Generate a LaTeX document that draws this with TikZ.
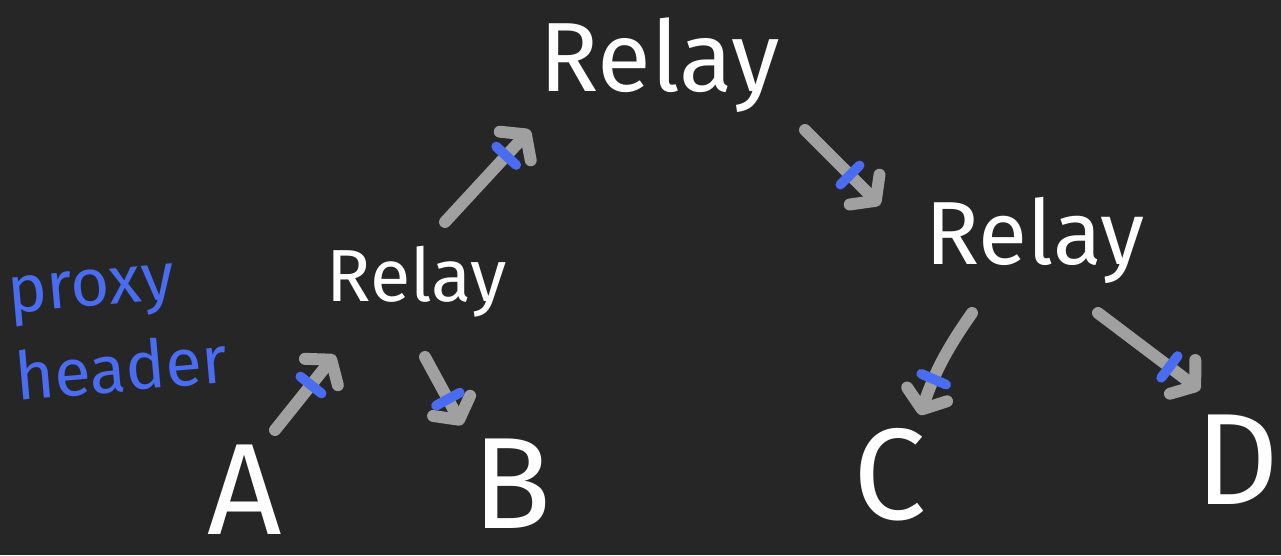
\documentclass[tikz,border=0pt]{standalone}
\usepackage{fontspec}
\setmainfont{Fira Sans}
\usetikzlibrary{arrows.meta, calc, positioning}
\definecolor{board}{HTML}{262626}
\definecolor{chalk}{HTML}{A0A0A0}
\definecolor{marker}{HTML}{4A6CF0}
\tikzset{
  relay/.style={text=white, inner sep=0pt},
  host/.style={text=white, inner sep=0pt, font=\fontsize{74}{78}\selectfont},
  hop/.style={->, draw=chalk, line width=6.8pt, line cap=round},
  hdr/.style={sloped, fill=marker, rounded corners=2.8pt, inner sep=0pt,
    minimum width=5.6pt, minimum height=21pt}
}

\begin{document}
\begin{tikzpicture}[x=0.02cm, y=-0.02cm, >={Straight Barb[round,length=9pt,width=24pt]}]
\fill[board] (0,0) rectangle (1281,555);
\useasboundingbox (0,0) rectangle (1281,555);
\node[relay, font=\fontsize{56}{60}\selectfont] at (660,65) (R0) {Relay};
\node[relay, font=\fontsize{42}{44}\selectfont] at (417,282) (R1) {Relay};
\node[relay, font=\fontsize{51}{54}\selectfont] at (1035,240) (R2) {Relay};
\node[host] at (245,490) (A) {A};
\node[host] at (512,484) (B) {B};
\node[host] at (890,475) (C) {C};
\node[host] at (1237,460) (D) {D};
\node[text=marker, align=left, rotate=5, inner sep=0pt,
  font=\fontsize{38}{50}\selectfont] at (118,330) (ph) {proxy\\header};
\draw[hop] ($(A)+(30,-60)$) to node[pos=0.6, hdr]{} ($(R1)+(-82,73)$);
\draw[hop] ($(R1)+(8,75)$) to node[pos=0.62, hdr]{} ($(B)+(-50,-59)$);
\draw[hop] ($(R1)+(28,-60)$) to node[pos=0.72, hdr]{} ($(R0)+(-130,65)$);
\draw[hop] ($(R0)+(145,65)$) to node[pos=0.6, hdr]{} ($(R2)+(-155,-35)$);
\draw[hop] ($(R2)+(-63,73)$) to[bend right=8] node[pos=0.68, hdr]{} ($(C)+(30,-60)$);
\draw[hop] ($(R2)+(63,73)$) to node[pos=0.7, hdr]{} ($(D)+(-37,-70)$);
\end{tikzpicture}
\end{document}
